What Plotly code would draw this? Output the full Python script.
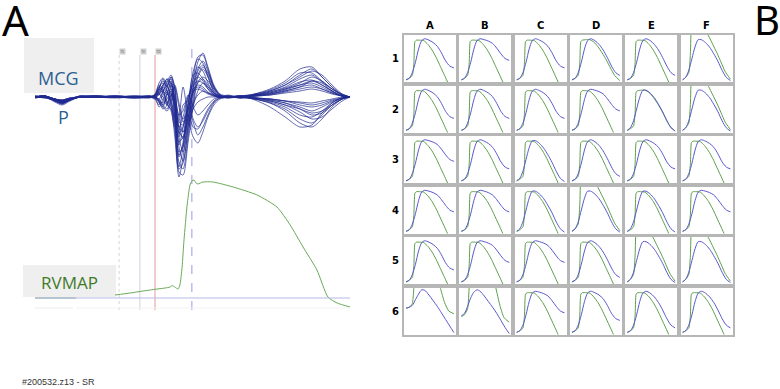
import plotly.graph_objects as go

W, H = 780, 389

# ---------------- Panel A data ----------------
MCG_T = [0, 32, 63, 86, 111, 143, 190, 254, 317, 365, 381, 394, 406, 419, 432, 444, 457, 470,
         486, 502, 517, 533, 549, 568, 587, 613, 651, 698, 746, 794, 841, 879, 911, 943, 975, 1000]

MCG_1 = [0, 1, -4, -6, -3, 0, 1, 0, 0, 1, 2, 10, 14, 6, -10, -40, -80, -60, -20, 10, 35, 44, 30, 12, 3, 1, 0, 2, 5, 10, 18, 22, 15, 8, 3, 0]
MCG_2 = [0, -1, -3, -5, -2, 1, 0, 1, 0, 0, 1, -6, -10, 4, 16, -20, -70, -50, -10, 25, 38, 34, 20, 6, 1, -1, 1, -2, -6, -12, -22, -26, -18, -8, -2, 0]
MCG_3 = [1, 0, -5, -8, -4, 0, 0, 0, 1, 0, -2, 8, 18, 10, 20, 10, -40, -55, -30, -5, 20, 28, 20, 5, 0, 2, -1, 3, 8, 16, 28, 30, 20, 10, 2, 0]
MCG_4 = [0, 1, -2, -4, -2, 0, 1, 0, 0, 0, 0, -4, -12, -8, 12, -5, -60, -45, -5, 15, 20, 16, 8, 2, -1, 0, 1, -3, -10, -20, -30, -28, -16, -6, -1, 0]
MCG_5 = [-1, 0, -3, -6, -3, 1, 0, 0, -1, 0, 3, 12, 8, -6, -14, -30, -20, 10, -20, -40, -46, -35, -20, -8, -2, 0, -1, 1, 4, 8, 14, 20, 16, 8, 2, 0]
MCG_6 = [0, 1, -4, -7, -3, 0, 0, 1, 0, 1, -2, -8, 5, 15, 22, 8, -30, -35, -10, -25, -38, -30, -18, -6, -1, 1, 0, -2, -4, -8, -15, -22, -20, -12, -4, 0]
MCG_7 = [0, 0, -2, -3, -1, 0, 1, 0, 0, 0, 1, 5, 8, 4, -5, -18, -30, -20, 0, 8, 12, 10, 5, 2, 0, 0, 1, 2, 3, 6, 10, 12, 8, 4, 1, 0]
MCG_8 = [0, -1, -3, -4, -2, 0, 0, 0, 1, 0, 0, -3, -6, -2, 6, -8, -25, -28, -8, 18, 30, 26, 14, 4, 0, -1, 0, -1, -3, -6, -10, -14, -10, -5, -1, 0]
MCG_9 = [1, 0, -4, -6, -3, 0, 1, 0, 0, -1, 2, 14, 19, 12, -2, -28, -65, -72, -40, 0, 22, 30, 24, 10, 2, 0, 1, 3, 6, 12, 20, 26, 22, 12, 3, 0]
MCG_10 = [0, 1, -3, -6, -2, 0, 0, 0, 0, 1, -1, -10, -4, 10, 18, -2, -45, -40, -15, 5, 8, 6, 3, 1, 0, 1, -1, -1, -2, -4, -5, -6, -4, -2, 0, 0]
MCG_11 = [0, 0, -2, -5, -3, 0, 0, 1, 0, 0, 1, 6, 12, 16, 8, -12, -50, -64, -35, -10, 6, 14, 10, 4, 1, 0, 0, 2, 5, 9, 15, 17, 12, 6, 1, 0]
MCG_12 = [-1, 0, -3, -5, -2, 1, 0, -1, 0, 0, -1, -5, -10, -14, -4, 10, -10, -25, -18, -30, -32, -22, -12, -4, 0, 0, 0, -2, -5, -10, -18, -20, -14, -6, -1, 0]
MCG_13 = [0, 1, -3, -4, -2, 0, 0, 0, 0, 0, 0, 4, 10, 18, 14, 0, -20, -35, -25, 10, 28, 36, 26, 10, 2, 0, 1, 1, 2, 4, 6, 8, 6, 3, 1, 0]
MCG_14 = [0, 0, -2, -4, -2, 0, 1, 0, 0, 0, 2, 8, 4, -8, -12, -20, -55, -50, -28, -12, -5, -2, 0, 0, 0, 0, 0, -1, -2, -4, -8, -10, -8, -4, -1, 0]
MCG_15 = [0, 0, -3, -5, -2, 0, 0, 0, -1, 0, 0, -2, 6, 12, 20, 5, -35, -40, -20, -6, 2, 6, 4, 2, 0, 1, 0, 2, 4, 8, 12, 14, 10, 5, 1, 0]
MCG_16 = [0, 1, -2, -3, -1, 0, 0, 1, 0, 0, 1, 3, -3, -8, 4, -15, -75, -78, -45, -10, 15, 20, 16, 8, 2, 0, 0, -1, -4, -8, -12, -16, -14, -8, -2, 0]
MCG_17 = [0, 0, -3, -5, -2, 0, 0, 0, 0, 0, 1, 9, 16, 10, 4, -22, -58, -48, -15, 18, 40, 42, 28, 10, 2, 0, 0, 2, 6, 12, 22, 28, 20, 10, 2, 0]
MCG_18 = [0, 1, -2, -4, -2, 0, 0, 0, 1, 0, -1, -4, -8, 2, 14, -6, -48, -30, 0, 12, 16, 14, 8, 2, 0, 0, 1, -2, -6, -14, -26, -30, -22, -10, -2, 0]
MCG_19 = [0, 0, -4, -7, -3, 0, 1, 0, 0, 0, 2, 10, 6, -4, -10, -26, -40, -8, -4, -22, -30, -24, -14, -5, -1, 0, 0, 1, 3, 6, 10, 16, 14, 6, 1, 0]
MCG_20 = [0, 1, -3, -5, -3, 0, 0, 1, 0, 1, 0, 2, 12, 18, 12, -4, -30, -42, -22, 4, 14, 18, 12, 4, 1, 0, 0, 3, 7, 14, 24, 24, 16, 8, 2, 0]
MCG_21 = [1, 0, -2, -4, -2, 0, 0, 0, -1, 0, 0, -2, -8, -12, 0, 12, -6, -22, -12, 6, 10, 8, 4, 1, 0, 0, 0, -1, -3, -6, -12, -18, -16, -8, -2, 0]
MCG_22 = [0, 0, -3, -6, -3, 1, 0, 0, 0, 0, 1, 7, 10, 6, -6, -34, -72, -66, -30, 6, 26, 32, 22, 8, 1, 0, 0, 1, 3, 7, 12, 16, 12, 6, 1, 0]
MCG_23 = [0, 1, -2, -3, -1, 0, 0, 0, 0, 0, 0, 3, 6, 2, 8, -4, -18, -14, 2, -10, -18, -14, -8, -2, 0, 0, 0, -1, -2, -4, -6, -8, -6, -3, -1, 0]
MCG_24 = [0, 0, -3, -5, -2, 0, 1, 0, 0, 0, 1, 4, 0, -6, 2, -10, -36, -30, -8, 22, 24, 18, 10, 3, 0, 0, 1, 1, 2, 5, 8, 10, 8, 4, 1, 0]
MCG_TRACES = [MCG_1, MCG_2, MCG_3, MCG_4, MCG_5, MCG_6, MCG_7, MCG_8,
              MCG_9, MCG_10, MCG_11, MCG_12, MCG_13, MCG_14, MCG_15, MCG_16,
              MCG_17, MCG_18, MCG_19, MCG_20, MCG_21, MCG_22, MCG_23, MCG_24]

RVMAP_T = [254, 302, 365, 413, 429, 435, 444, 454, 460, 467, 473, 483, 492, 498, 505, 511, 517,
           533, 565, 629, 705, 768, 810, 851, 895, 930, 959, 1000]
RVMAP_V = [-1, 1, 4, 6, 7, 8.5, 7, 5, 9, 27, 54, 89, 109, 113, 114, 111, 110,
           112, 112, 107, 99, 87, 69, 47, 24, -3, -9, -13]

MARKER_T = [267, 333, 381, 498]
MARKER_LABELS = ["TS", "TE", "TD"]

# ---------------- Panel B data ----------------
COLS = ["A", "B", "C", "D", "E", "F"]
ROWS = ["1", "2", "3", "4", "5", "6"]

X_G = [0.04, 0.10, 0.16, 0.19, 0.21, 0.24, 0.30, 0.38, 0.46, 0.54, 0.62, 0.70, 0.78, 0.86, 0.96]
G_EARLY = [0.04, 0.08, 0.14, 0.40, 0.86, 0.89, 0.89, 0.88, 0.80, 0.68, 0.52, 0.33, 0.14, -0.05, -0.2]
G_TRACK = [0.04, 0.08, 0.14, 0.40, 0.86, 0.89, 0.90, 0.90, 0.85, 0.75, 0.62, 0.47, 0.30, 0.14, 0.03]
G_OVER = [0.04, 0.10, 0.20, 0.60, 1.20, 1.30, 1.35, 1.30, 1.12, 0.98, 0.80, 0.62, 0.42, 0.22, 0.06]
G_A6 = [0.56, 0.58, 0.66, 1.00, 1.30, 1.40, 1.50, 1.50, 1.50, 1.40, 1.20, 0.98, 0.68, 0.50, 0.44]
G_B6 = [0.38, 0.42, 0.55, 1.00, 1.30, 1.40, 1.50, 1.50, 1.50, 1.40, 1.25, 1.00, 0.62, 0.36, 0.26]
G_TEMPLATES = {"early": G_EARLY, "track": G_TRACK, "over": G_OVER, "a6": G_A6, "b6": G_B6}

X_B = [0.04, 0.10, 0.16, 0.22, 0.28, 0.34, 0.40, 0.48, 0.56, 0.64, 0.72, 0.80, 0.88, 0.96]
B_HI = [0.05, 0.08, 0.20, 0.42, 0.70, 0.88, 0.92, 0.90, 0.87, 0.82, 0.72, 0.60, 0.50, 0.46]
B_MID = [0.05, 0.08, 0.20, 0.42, 0.70, 0.88, 0.92, 0.89, 0.84, 0.76, 0.62, 0.45, 0.34, 0.30]
B_LO = [0.05, 0.08, 0.20, 0.42, 0.70, 0.88, 0.92, 0.88, 0.80, 0.68, 0.52, 0.34, 0.20, 0.14]
B_ZERO = [0.05, 0.10, 0.25, 0.50, 0.75, 0.90, 0.90, 0.84, 0.74, 0.60, 0.44, 0.25, 0.10, 0.03]
B_A6 = [0.56, 0.58, 0.62, 0.74, 0.86, 0.95, 0.94, 0.84, 0.72, 0.60, 0.46, 0.32, 0.18, 0.04]
B_B6 = [0.40, 0.45, 0.60, 0.78, 0.90, 0.95, 0.92, 0.82, 0.70, 0.58, 0.45, 0.30, 0.15, 0.02]
B_TEMPLATES = {"hi": B_HI, "mid": B_MID, "lo": B_LO, "zero": B_ZERO, "a6": B_A6, "b6": B_B6}

CELL_GREEN = [
    ["early", "early", "early", "track", "early", "over"],
    ["early", "early", "early", "early", "track", "over"],
    ["early", "early", "early", "early", "early", "early"],
    ["early", "early", "early", "over", "early", "early"],
    ["early", "early", "early", "early", "over", "over"],
    ["a6", "b6", "early", "early", "early", "early"],
]
CELL_BLUE = [
    ["mid", "hi", "mid", "lo", "lo", "zero"],
    ["mid", "mid", "mid", "hi", "zero", "zero"],
    ["hi", "mid", "zero", "lo", "mid", "mid"],
    ["hi", "hi", "zero", "zero", "zero", "hi"],
    ["mid", "hi", "hi", "lo", "zero", "zero"],
    ["a6", "b6", "hi", "mid", "lo", "lo"],
]

# ---------------- helpers ----------------
def fx(p):
    return p / W


def fy(p):
    return 1 - p / H


fig = go.Figure()
layout = dict(
    width=W, height=H, margin=dict(l=0, r=0, t=0, b=0),
    paper_bgcolor="white", plot_bgcolor="rgba(0,0,0,0)", showlegend=False,
)

# Panel A axes
layout["xaxis"] = dict(domain=[fx(35), fx(350)], range=[0, 1000], visible=False, anchor="y")
layout["yaxis"] = dict(domain=[fy(190), fy(40)], range=[-93, 57], visible=False, anchor="x")
layout["xaxis2"] = dict(domain=[fx(35), fx(350)], range=[0, 1000], visible=False, anchor="y2")
layout["yaxis2"] = dict(domain=[fy(320), fy(170)], range=[-26, 124], visible=False, anchor="x2")

shapes = []
annotations = []

# gray label boxes
shapes.append(dict(type="rect", xref="paper", yref="paper", x0=fx(24), x1=fx(94), y0=fy(93), y1=fy(38),
                   fillcolor="#efefef", line=dict(width=0), layer="below"))
shapes.append(dict(type="rect", xref="paper", yref="paper", x0=fx(23), x1=fx(116), y0=fy(297), y1=fy(265),
                   fillcolor="#efefef", line=dict(width=0), layer="below"))

# marker lines
marker_styles = [("#d4d4d4", "dot"), ("#d0d0dc", "solid"), ("#e09a9a", "solid"), ("#9a9ae6", "dash")]
for t, (col, dsh) in zip(MARKER_T, marker_styles):
    top = 48 if dsh == "dash" else 55
    shapes.append(dict(type="line", xref="x", yref="paper", x0=t, x1=t, y0=fy(310), y1=fy(top),
                       line=dict(color=col, width=1, dash=dsh), layer="below"))
for t, lab in zip(MARKER_T[:3], MARKER_LABELS):
    annotations.append(dict(x=t, xref="x", y=fy(51.5), yref="paper", text=lab, showarrow=False,
                            xanchor="left", yanchor="middle", xshift=0,
                            font=dict(size=3, color="#555"), bgcolor="#cfcfcf", borderpad=0.5))

# baseline reference lines in RVMAP axis
shapes.append(dict(type="line", xref="x2", yref="y2", x0=0, x1=1000, y0=-4, y1=-4,
                   line=dict(color="#b8b8e4", width=1.2)))
shapes.append(dict(type="line", xref="x2", yref="y2", x0=0, x1=130, y0=-4, y1=-4,
                   line=dict(color="#8fb0b4", width=1.2)))
shapes.append(dict(type="line", xref="x2", yref="y2", x0=0, x1=120, y0=-14, y1=-14,
                   line=dict(color="#ececec", width=1.2)))
shapes.append(dict(type="line", xref="x2", yref="y2", x0=130, x1=1000, y0=-14, y1=-14,
                   line=dict(color="#f4f4f4", width=1.2)))

# MCG traces
for tr in MCG_TRACES:
    fig.add_trace(go.Scatter(x=MCG_T, y=tr, mode="lines", xaxis="x", yaxis="y",
                             line=dict(color="#1f2a8f", width=0.7, shape="spline", smoothing=0.8),
                             hoverinfo="skip"))

# RVMAP trace
fig.add_trace(go.Scatter(x=RVMAP_T, y=RVMAP_V, mode="lines", xaxis="x2", yaxis="y2",
                         line=dict(color="#6aaa5a", width=1, shape="spline", smoothing=0.6),
                         hoverinfo="skip"))

# Panel A texts
annotations += [
    dict(x=fx(0), y=fy(19), xref="paper", yref="paper", text="A", showarrow=False,
         xanchor="left", yanchor="middle", font=dict(size=42, color="black", family="Noto Sans")),
    dict(x=fx(767), y=fy(19), xref="paper", yref="paper", text="B", showarrow=False,
         xanchor="center", yanchor="middle", font=dict(size=40, color="black", family="Noto Sans")),
    dict(x=fx(59), y=fy(78), xref="paper", yref="paper", text="MCG", showarrow=False,
         xanchor="center", yanchor="middle", font=dict(size=18, color="#2d5f92", family="Open Sans")),
    dict(x=fx(63), y=fy(117), xref="paper", yref="paper", text="P", showarrow=False,
         xanchor="center", yanchor="middle", font=dict(size=18, color="#2d5f92", family="Open Sans")),
    dict(x=fx(69), y=fy(282), xref="paper", yref="paper", text="RVMAP", showarrow=False,
         xanchor="center", yanchor="middle", font=dict(size=17, color="#3f7a2a", family="Open Sans")),
    dict(x=fx(20), y=fy(382), xref="paper", yref="paper", text="#200532.z13 - SR", showarrow=False,
         xanchor="left", yanchor="middle", font=dict(size=9, color="#333", family="Liberation Sans")),
]

# Panel B grid
CELL_X0, CELL_Y0, CELL_W, CELL_H, PITCH_X, PITCH_Y = 404, 35, 52, 47, 55.3, 50.5
for r in range(6):
    for c in range(6):
        k = 3 + r * 6 + c
        x0 = CELL_X0 + PITCH_X * c
        y0 = CELL_Y0 + PITCH_Y * r
        ax = dict(showline=True, mirror=True, linecolor="#b6b6b6", linewidth=1.5,
                  showticklabels=False, ticks="", showgrid=False, zeroline=False, range=[0, 1], fixedrange=True)
        layout[f"xaxis{k}"] = dict(domain=[fx(x0), fx(x0 + CELL_W)], anchor=f"y{k}", **ax)
        layout[f"yaxis{k}"] = dict(domain=[fy(y0 + CELL_H), fy(y0)], anchor=f"x{k}", **ax)
        fig.add_trace(go.Scatter(x=X_G, y=G_TEMPLATES[CELL_GREEN[r][c]], mode="lines",
                                 xaxis=f"x{k}", yaxis=f"y{k}", hoverinfo="skip",
                                 line=dict(color="#5c9e4c", width=1, shape="spline", smoothing=0.5)))
        fig.add_trace(go.Scatter(x=X_B, y=B_TEMPLATES[CELL_BLUE[r][c]], mode="lines",
                                 xaxis=f"x{k}", yaxis=f"y{k}", hoverinfo="skip",
                                 line=dict(color="#5a58cc", width=1, shape="spline", smoothing=0.8)))

for c, lab in enumerate(COLS):
    annotations.append(dict(x=fx(CELL_X0 + PITCH_X * c + CELL_W / 2), y=fy(26), xref="paper", yref="paper",
                            text=f"<b>{lab}</b>", showarrow=False, xanchor="center", yanchor="middle",
                            font=dict(size=10, color="black", family="DejaVu Sans")))
for r, lab in enumerate(ROWS):
    annotations.append(dict(x=fx(395), y=fy(CELL_Y0 + PITCH_Y * r + CELL_H / 2), xref="paper", yref="paper",
                            text=f"<b>{lab}</b>", showarrow=False, xanchor="center", yanchor="middle",
                            font=dict(size=10, color="black", family="DejaVu Sans")))

layout["shapes"] = shapes
layout["annotations"] = annotations
fig.update_layout(**layout)
fig.write_html("out.html", config={"displayModeBar": False},
               post_script="document.body.style.margin='0';")
